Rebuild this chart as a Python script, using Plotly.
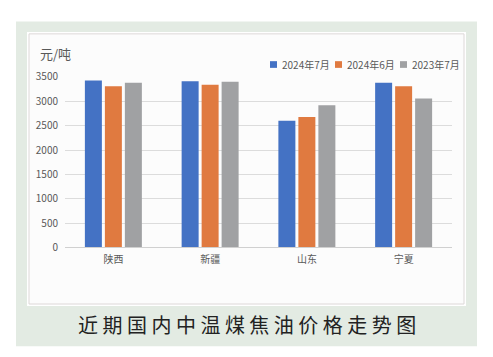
import plotly.graph_objects as go

W, H = 493, 357

categories = ["陕西", "新疆", "山东", "宁夏"]
series_names = ["2024年7月", "2024年6月", "2023年7月"]
series_colors = ["#4472c4", "#e07a40", "#a0a1a3"]
values_2024_07 = [3430, 3410, 2600, 3380]
values_2024_06 = [3310, 3340, 2680, 3310]
values_2023_07 = [3380, 3400, 2920, 3060]
series_values = [values_2024_07, values_2024_06, values_2023_07]
y_ticks = [0, 500, 1000, 1500, 2000, 2500, 3000, 3500]
unit_label = "元/吨"
caption = "近期国内中温煤焦油价格走势图"

def px(x):
    return x / W

def py(y):
    return 1 - y / H

FONT = "Noto Sans CJK SC"
TXT = "#595959"

fig = go.Figure()
for name, vals, col in zip(series_names, series_values, series_colors):
    fig.add_trace(go.Bar(x=categories, y=vals, name=name, marker=dict(color=col, line=dict(width=0)),
                         showlegend=False))

shapes = [
    dict(type="rect", xref="paper", yref="paper", x0=px(16), x1=px(477), y0=py(353), y1=py(14),
         fillcolor="#e3ebe3", line=dict(width=0), layer="below"),
    dict(type="rect", xref="paper", yref="paper", x0=px(27), x1=px(466), y0=py(311), y1=py(25),
         fillcolor="#ffffff", line=dict(width=0), layer="below"),
    dict(type="rect", xref="paper", yref="paper", x0=px(29), x1=px(464), y0=py(309), y1=py(27),
         fillcolor="#fcfcfc", line=dict(width=1, color="#ddd8d8"), layer="below"),
]
annotations = [
    dict(text=unit_label, xref="paper", yref="paper", x=px(38), y=py(48), xanchor="left", yanchor="middle",
         showarrow=False, font=dict(family=FONT, size=13, color=TXT)),
    dict(text=" ".join(caption), xref="paper", yref="paper", x=px(246.5), y=py(330), xanchor="center",
         yanchor="middle", showarrow=False, font=dict(family=FONT, size=20, color="#222222")),
]
# legend built from series names
leg_x = [270, 335, 400]
for name, col, lx in zip(series_names, series_colors, leg_x):
    shapes.append(dict(type="rect", xref="paper", yref="paper", x0=px(lx), x1=px(lx + 7),
                       y0=py(62.5), y1=py(55.5), fillcolor=col, line=dict(width=0)))
    annotations.append(dict(text=name, xref="paper", yref="paper", x=px(lx + 10), y=py(59),
                            xanchor="left", yanchor="middle", showarrow=False,
                            font=dict(family=FONT, size=10, color=TXT)))

fig.update_layout(
    width=W, height=H,
    margin=dict(l=0, r=0, t=0, b=0),
    paper_bgcolor="#ffffff", plot_bgcolor="rgba(0,0,0,0)",
    barmode="group", bargap=0.38, bargroupgap=0.15,
    font=dict(family=FONT, size=10, color=TXT),
    shapes=shapes, annotations=annotations,
    xaxis=dict(domain=[px(65), px(452)], showgrid=False, showline=True, linecolor="#d0d0d0",
               linewidth=1, ticks="", tickfont=dict(size=10, color=TXT), ticklabelstandoff=3,
               fixedrange=True),
    yaxis=dict(domain=[py(250), py(72)], range=[0, 3500], tickvals=y_ticks, showgrid=True,
               gridcolor="#dcdcdc", gridwidth=1, zeroline=False, showline=False, ticks="",
               tickfont=dict(size=10, color=TXT), ticklabelstandoff=6, fixedrange=True),
)

post = (
    "var d=document.getElementById('{plot_id}');"
    "d.style.position='absolute';d.style.left='0px';d.style.top='0px';"
    "document.documentElement.style.cssText='margin:0;padding:0;overflow:hidden;height:357px;';"
    "document.body.style.cssText='margin:0;padding:0;overflow:hidden;height:357px;';"
)
fig.write_html("out.html", config={"displayModeBar": False}, post_script=post)
